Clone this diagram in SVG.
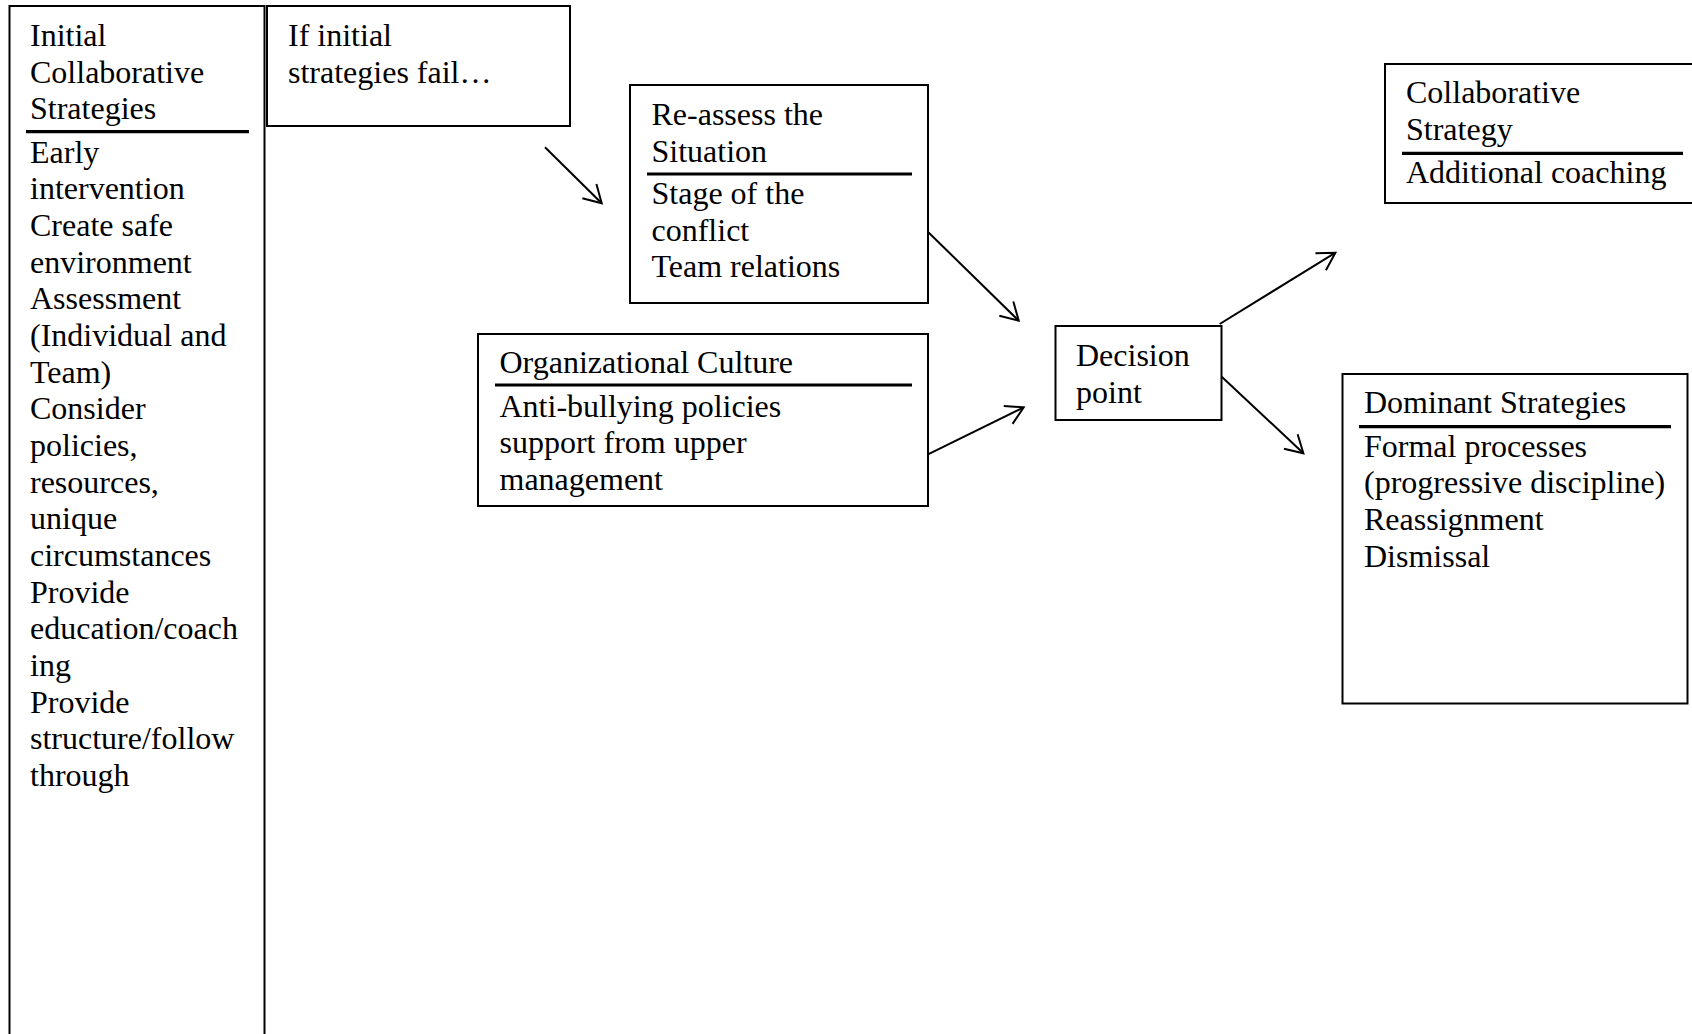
<svg xmlns="http://www.w3.org/2000/svg" width="1692" height="1034" viewBox="0 0 1692 1034">
<style>
.box{fill:#fff;stroke:#000;stroke-width:2}
.t{font-family:"Liberation Serif","Times New Roman",serif;font-size:32px;fill:#000}
.ul{stroke:#000;stroke-width:3.2}
.c{stroke:#000;stroke-width:2;fill:none}
</style>
<defs>
<marker id="ah" markerUnits="userSpaceOnUse" orient="auto" markerWidth="40" markerHeight="40" viewBox="-20 -20 40 40" refX="0" refY="0" overflow="visible">
<path d="M -17.3 -10 L 0 0 L -17.3 10" fill="none" stroke="#000" stroke-width="2"/>
</marker>
</defs>
<rect width="1692" height="1034" fill="#fff"/>
<g id="initial">
<rect class="box" x="9.5" y="6" width="255" height="1040"/>
<text class="t" x="30" y="46">Initial</text>
<text class="t" x="30" y="82.7">Collaborative</text>
<text class="t" x="30" y="119.3">Strategies</text>
<line class="ul" x1="26" y1="131.7" x2="249" y2="131.7"/>
<text class="t" x="30" y="162.7">Early</text>
<text class="t" x="30" y="199.3">intervention</text>
<text class="t" x="30" y="236">Create safe</text>
<text class="t" x="30" y="272.7">environment</text>
<text class="t" x="30" y="309.3">Assessment</text>
<text class="t" x="30" y="346">(Individual and</text>
<text class="t" x="30" y="382.7">Team)</text>
<text class="t" x="30" y="419.3">Consider</text>
<text class="t" x="30" y="456">policies,</text>
<text class="t" x="30" y="492.7">resources,</text>
<text class="t" x="30" y="529.3">unique</text>
<text class="t" x="30" y="566">circumstances</text>
<text class="t" x="30" y="602.7">Provide</text>
<text class="t" x="30" y="639.3">education/coach</text>
<text class="t" x="30" y="676">ing</text>
<text class="t" x="30" y="712.7">Provide</text>
<text class="t" x="30" y="749.3">structure/follow</text>
<text class="t" x="30" y="786">through</text>
</g>
<g id="fail">
<rect class="box" x="267" y="6" width="303" height="120"/>
<text class="t" x="288" y="46">If initial</text>
<text class="t" x="288" y="82.7">strategies fail…</text>
</g>
<g id="reassess">
<rect class="box" x="630" y="85" width="298" height="218"/>
<text class="t" x="651.5" y="125">Re-assess the</text>
<text class="t" x="651.5" y="161.7">Situation</text>
<line class="ul" x1="647" y1="174" x2="912" y2="174"/>
<text class="t" x="651.5" y="204">Stage of the</text>
<text class="t" x="651.5" y="240.7">conflict</text>
<text class="t" x="651.5" y="277.3">Team relations</text>
</g>
<g id="culture">
<rect class="box" x="478" y="334" width="450" height="172"/>
<text class="t" x="499.5" y="373.3">Organizational Culture</text>
<line class="ul" x1="495" y1="385" x2="912" y2="385"/>
<text class="t" x="499.5" y="416.7">Anti-bullying policies</text>
<text class="t" x="499.5" y="453.3">support from upper</text>
<text class="t" x="499.5" y="490">management</text>
</g>
<g id="decision">
<rect class="box" x="1055.5" y="326" width="166" height="94"/>
<text class="t" x="1076" y="366">Decision</text>
<text class="t" x="1076" y="402.7">point</text>
</g>
<g id="collab">
<rect class="box" x="1385" y="64" width="330" height="139"/>
<text class="t" x="1406" y="103.3">Collaborative</text>
<text class="t" x="1406" y="140">Strategy</text>
<line class="ul" x1="1402" y1="153.3" x2="1683" y2="153.3"/>
<text class="t" x="1406" y="183.3">Additional coaching</text>
</g>
<g id="dominant">
<rect class="box" x="1342.5" y="374" width="345" height="329.5"/>
<text class="t" x="1364" y="413.3">Dominant Strategies</text>
<line class="ul" x1="1359" y1="426.7" x2="1671" y2="426.7"/>
<text class="t" x="1364" y="456.7">Formal processes</text>
<text class="t" x="1364" y="493.3">(progressive discipline)</text>
<text class="t" x="1364" y="530">Reassignment</text>
<text class="t" x="1364" y="566.7">Dismissal</text>
</g>
<g id="connectors">
<line class="c" x1="545" y1="147.3" x2="601.7" y2="203.3" marker-end="url(#ah)"/>
<line class="c" x1="927.8" y1="231.7" x2="1018.7" y2="320.7" marker-end="url(#ah)"/>
<line class="c" x1="928" y1="454.3" x2="1023.7" y2="407.3" marker-end="url(#ah)"/>
<line class="c" x1="1219.7" y1="324" x2="1335.4" y2="252.7" marker-end="url(#ah)"/>
<line class="c" x1="1221.7" y1="376.7" x2="1303.4" y2="453.3" marker-end="url(#ah)"/>
</g>
</svg>
